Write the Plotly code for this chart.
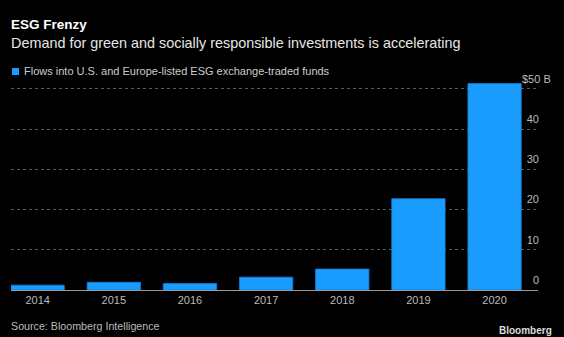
import plotly.graph_objects as go

years = ["2014", "2015", "2016", "2017", "2018", "2019", "2020"]
flows = [1.2, 1.9, 1.6, 3.2, 5.2, 22.7, 51.3]
tick_vals = [0, 10, 20, 30, 40, 50]
tick_text = ["0", "10", "20", "30", "40", ""]

BLUE = "#1a9cff"
FONT = "Liberation Sans"

fig = go.Figure()
fig.add_trace(go.Bar(
    x=years, y=flows,
    marker=dict(color=BLUE, line=dict(color="#1380d8", width=0.8)),
    showlegend=False,
))

fig.update_layout(
    width=564, height=337,
    paper_bgcolor="#000000", plot_bgcolor="#000000",
    margin=dict(l=11, r=26, t=80, b=47),
    bargap=0.30,
    font=dict(family=FONT, color="#bbbbbb", size=11),
    xaxis=dict(
        type="category", range=[-0.35, 6.57],
        showgrid=False, showline=True, linecolor="#9a9a9a", linewidth=1,
        ticks="", tickfont=dict(size=11, color="#bbbbbb"),
        zeroline=False,
    ),
    yaxis=dict(
        range=[0, 52.2], side="right",
        tickvals=tick_vals, ticktext=tick_text,
        ticklabelposition="inside", ticklabelshift=-10, ticklabelstandoff=-4,
        tickfont=dict(size=11, color="#bbbbbb"),
        showgrid=True, gridcolor="#5a5a5a", griddash="dot", gridwidth=1,
        zeroline=False, showline=False, ticks="",
    ),
)

def px_x(p):
    return (p - 11) / 527

def px_y(p):
    return (290 - p) / 210

fig.add_annotation(text="<b>ESG Frenzy</b>", xref="paper", yref="paper",
                   x=px_x(9), y=px_y(24), xanchor="left", yanchor="middle",
                   showarrow=False, font=dict(size=13.5, color="#ffffff", family=FONT))
fig.add_annotation(text="Demand for green and socially responsible investments is accelerating",
                   xref="paper", yref="paper",
                   x=px_x(9), y=px_y(43), xanchor="left", yanchor="middle",
                   showarrow=False, font=dict(size=14.4, color="#e6e6e6", family=FONT))
fig.add_shape(type="rect", xref="paper", yref="paper",
              x0=px_x(12), x1=px_x(19), y0=px_y(75), y1=px_y(68),
              fillcolor=BLUE, line=dict(width=0))
fig.add_annotation(text="Flows into U.S. and Europe-listed ESG exchange-traded funds",
                   xref="paper", yref="paper",
                   x=px_x(22), y=px_y(71.5), xanchor="left", yanchor="middle",
                   showarrow=False, font=dict(size=11, color="#cccccc", family=FONT))
fig.add_annotation(text="$50 B", xref="paper", yref="y",
                   x=px_x(520), y=50, yshift=10, xanchor="left", yanchor="middle",
                   showarrow=False, font=dict(size=11, color="#bbbbbb", family=FONT))
fig.add_annotation(text="Source: Bloomberg Intelligence", xref="paper", yref="paper",
                   x=px_x(9), y=px_y(326), xanchor="left", yanchor="middle",
                   showarrow=False, font=dict(size=10.7, color="#bbbbbb", family=FONT))
fig.add_annotation(text="<b>Bloomberg</b>", xref="paper", yref="paper",
                   x=px_x(554), y=px_y(330), xanchor="right", yanchor="middle",
                   showarrow=False, font=dict(size=10, color="#dddddd", family=FONT))

fig.write_html("out.html")
